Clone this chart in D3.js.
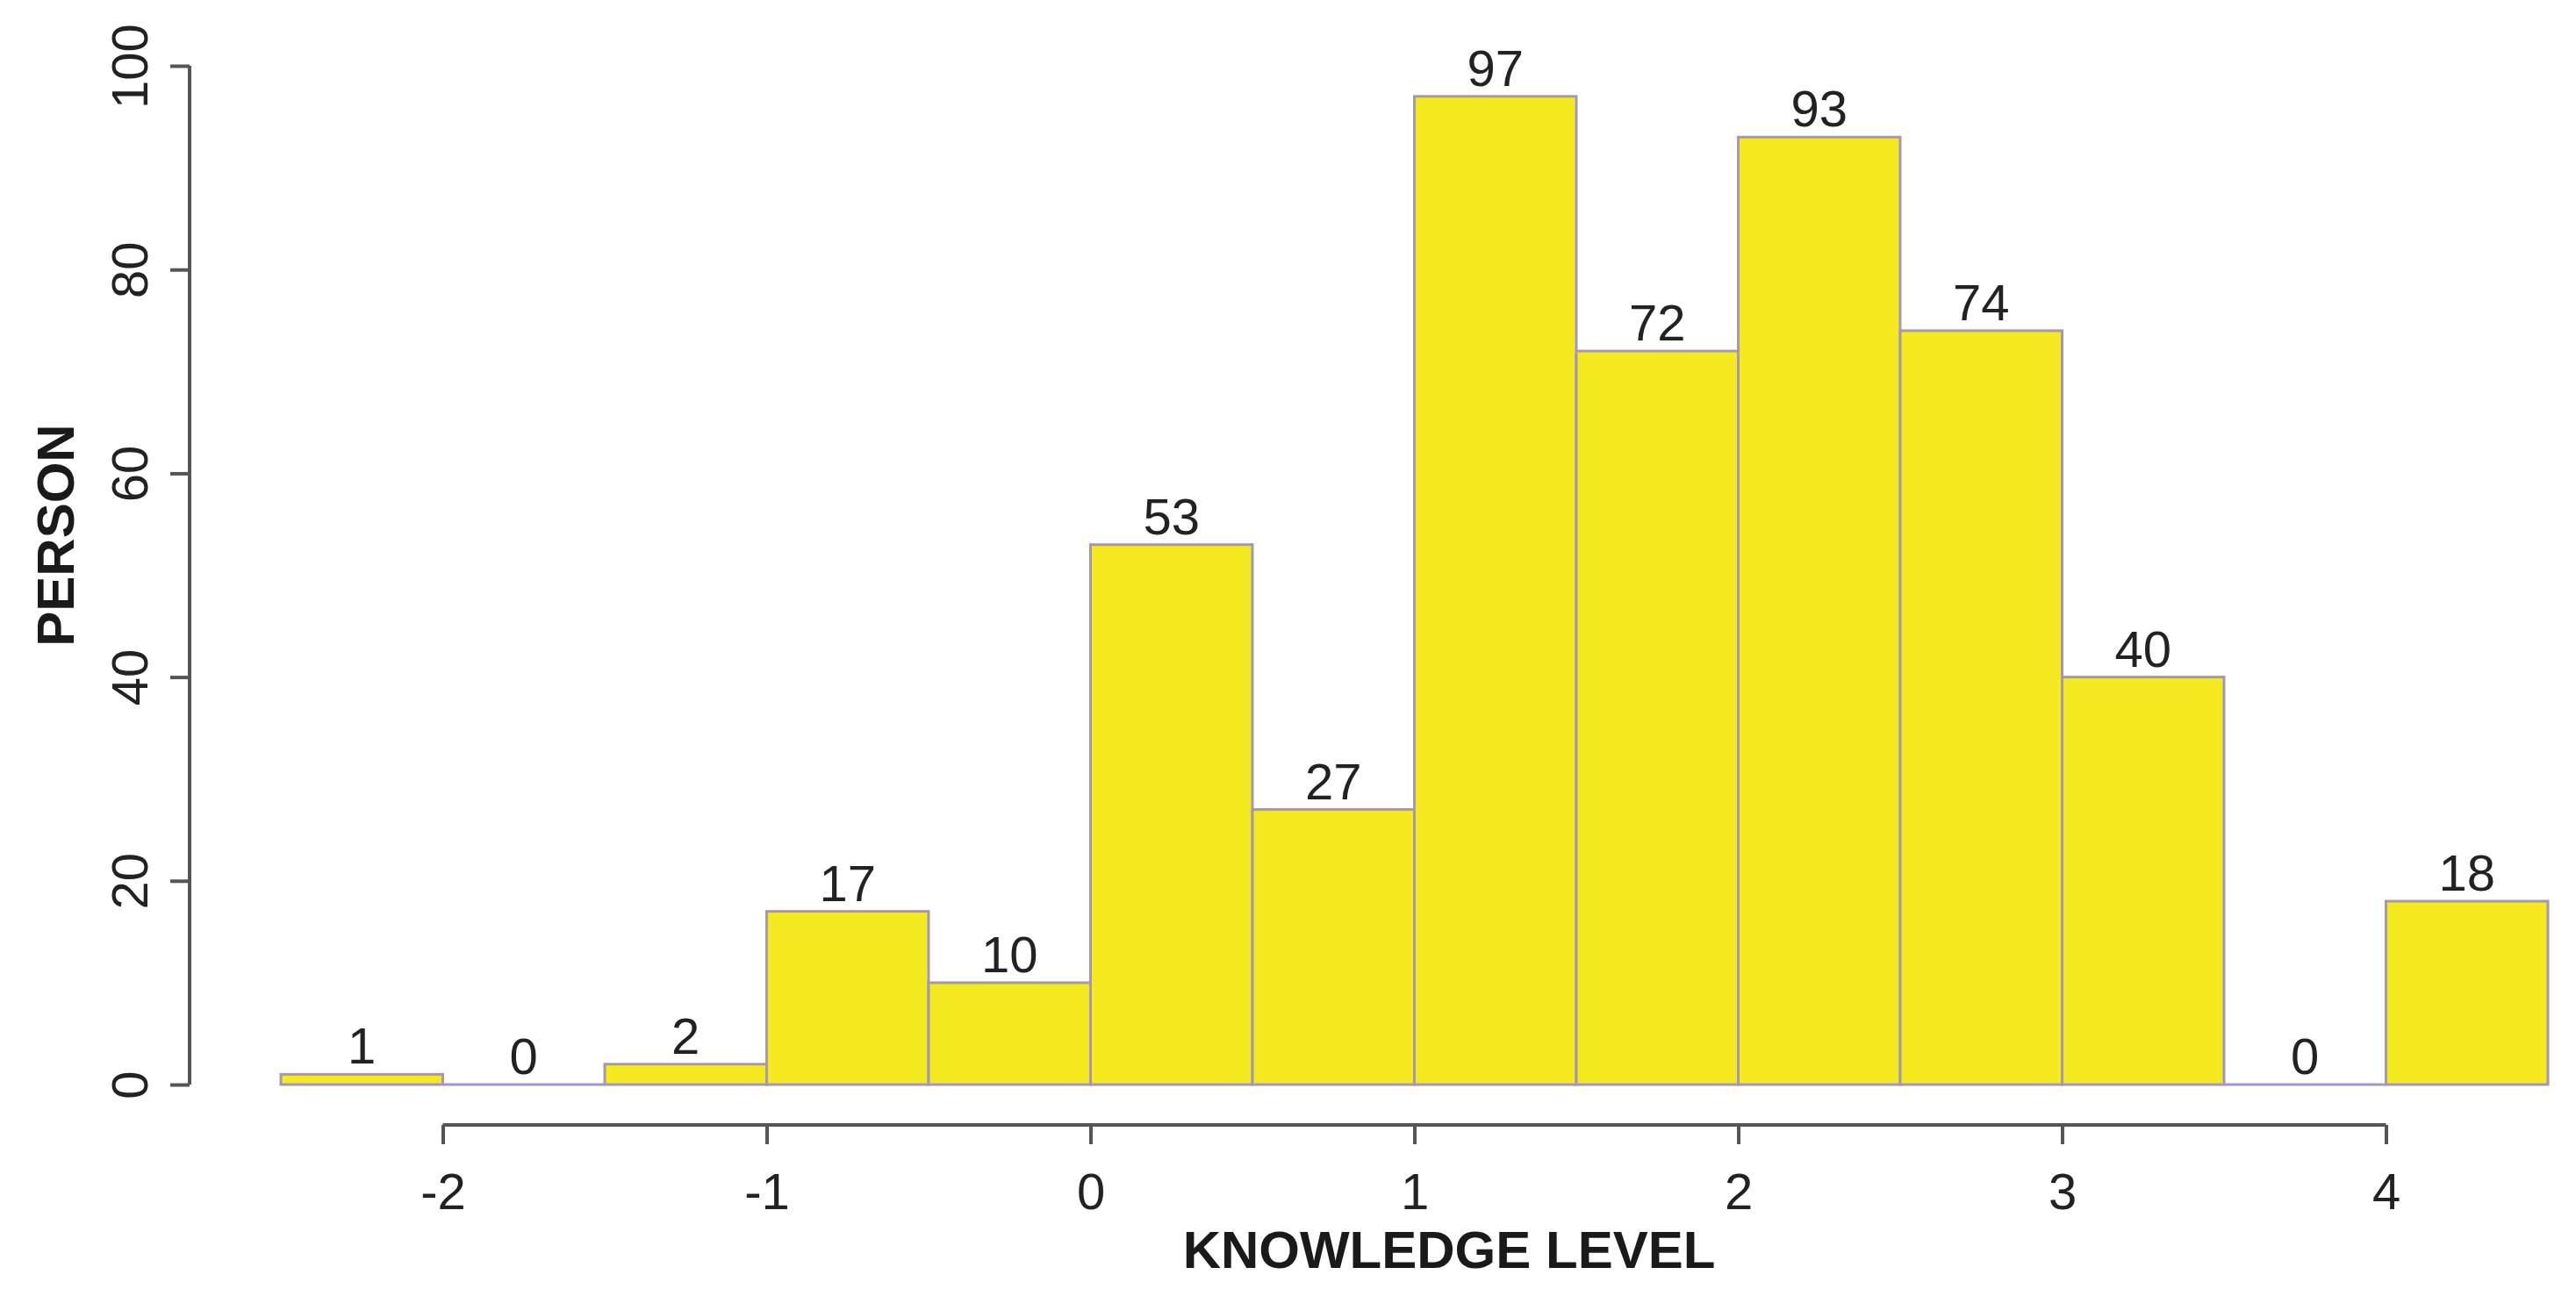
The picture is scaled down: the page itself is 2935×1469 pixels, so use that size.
<!DOCTYPE html>
<html>
<head>
<meta charset="utf-8">
<script src="https://cdn.jsdelivr.net/npm/d3@7/dist/d3.min.js"></script>
<style>
  html, body { margin: 0; padding: 0; background: #ffffff; }
  svg { display: block; }
  text { font-family: "Liberation Sans", Arial, sans-serif; }
</style>
</head>
<body>
<script>
// ---- data ----
const binEdges = [-2.5, -2, -1.5, -1, -0.5, 0, 0.5, 1, 1.5, 2, 2.5, 3, 3.5, 4, 4.5];
const counts = [1, 0, 2, 17, 10, 53, 27, 97, 72, 93, 74, 40, 0, 18];
const xTicks = [-2, -1, 0, 1, 2, 3, 4];
const yTicks = [0, 20, 40, 60, 80, 100];
const xTitle = "KNOWLEDGE LEVEL";
const yTitle = "PERSON";

const W = 2935, H = 1469;
const svg = d3.select("body").append("svg").attr("width", W).attr("height", H);

const x = d3.scaleLinear().domain([-2.5, 4.5]).range([320, 2903]);
const y = d3.scaleLinear().domain([0, 100]).range([1236, 75]);

const bins = counts.map((c, i) => ({ x0: binEdges[i], x1: binEdges[i + 1], v: c }));

// bars
svg.append("g").selectAll("rect").data(bins.filter(d => d.v > 0)).join("rect")
  .attr("x", d => x(d.x0))
  .attr("y", d => y(d.v))
  .attr("width", d => x(d.x1) - x(d.x0))
  .attr("height", d => y(0) - y(d.v))
  .attr("fill", "#f4ea1f")
  .attr("stroke", "#a497b8")
  .attr("stroke-width", 3);

// empty bins drawn as flat outline
svg.append("g").selectAll("line").data(bins.filter(d => d.v === 0)).join("line")
  .attr("x1", d => x(d.x0)).attr("x2", d => x(d.x1))
  .attr("y1", d => y(d.v)).attr("y2", d => y(d.v))
  .attr("stroke", "#a497c8")
  .attr("stroke-width", 3);

// bar labels
svg.append("g").selectAll("text").data(bins).join("text")
  .attr("x", d => (x(d.x0) + x(d.x1)) / 2)
  .attr("y", d => y(d.v) - 12)
  .attr("text-anchor", "middle")
  .attr("font-size", 58)
  .attr("fill", "#222")
  .text(d => d.v);

const fmt = d => String(d);

// x axis
const xAxisY = 1282;
const gx = svg.append("g").attr("transform", `translate(0,${xAxisY})`)
  .call(d3.axisBottom(x).tickValues(xTicks).tickSize(22).tickSizeOuter(0).tickPadding(10).tickFormat(fmt));
gx.select(".domain").attr("d", `M${x(-2)},0H${x(4)}`).attr("stroke", "#555").attr("stroke-width", 4);
gx.selectAll(".tick line").attr("stroke", "#555").attr("stroke-width", 4);
gx.selectAll(".tick text").attr("font-size", 58).attr("fill", "#222")
  .attr("font-family", "Liberation Sans, Arial, sans-serif").attr("dy", null).attr("y", 0)
  .attr("transform", "translate(0,96)");

// y axis
const yAxisX = 216;
const gy = svg.append("g").attr("transform", `translate(${yAxisX},0)`)
  .call(d3.axisLeft(y).tickValues(yTicks).tickSize(22).tickSizeOuter(0).tickFormat(fmt));
gy.select(".domain").attr("d", `M0,${y(0)}V${y(100)}`).attr("stroke", "#555").attr("stroke-width", 4);
gy.selectAll(".tick line").attr("stroke", "#555").attr("stroke-width", 4);
gy.selectAll(".tick text")
  .attr("font-size", 58).attr("fill", "#222")
  .attr("font-family", "Liberation Sans, Arial, sans-serif")
  .attr("x", null).attr("dy", null)
  .attr("text-anchor", "middle")
  .attr("transform", "translate(-48,0) rotate(-90)");

// titles
svg.append("text")
  .attr("x", 1651).attr("y", 1445)
  .attr("text-anchor", "middle")
  .attr("font-size", 60).attr("font-weight", "bold").attr("fill", "#1a1a1a")
  .text(xTitle);

svg.append("text")
  .attr("transform", "translate(84,610) rotate(-90)")
  .attr("text-anchor", "middle")
  .attr("font-size", 60).attr("font-weight", "bold").attr("fill", "#1a1a1a")
  .text(yTitle);
</script>
</body>
</html>
